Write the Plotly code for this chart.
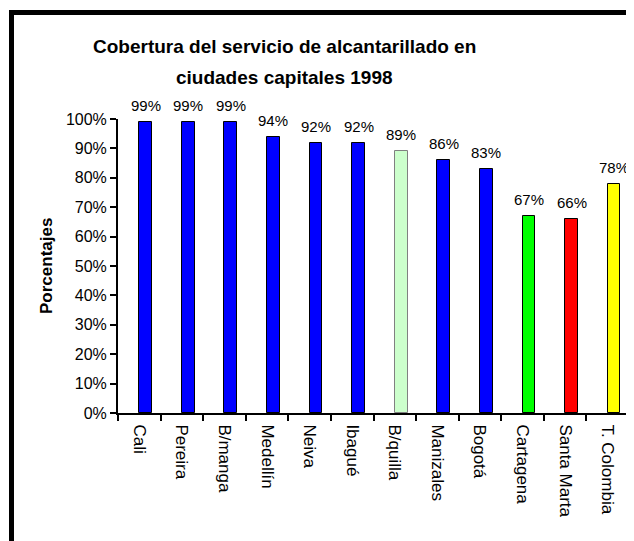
import plotly.graph_objects as go

ciudades = ["Cali", "Pereira", "B/manga", "Medellín", "Neiva", "Ibagué",
            "B/quilla", "Manizales", "Bogotá", "Cartagena", "Santa Marta", "T. Colombia"]
cobertura = [99, 99, 99, 94, 92, 92, 89, 86, 83, 67, 66, 78]
colores = ["#0000FF", "#0000FF", "#0000FF", "#0000FF", "#0000FF", "#0000FF",
           "#CCFFCC", "#0000FF", "#0000FF", "#00FF00", "#FF0000", "#FFFF00"]
bordes = ["#000000"] * 6 + ["#808080"] + ["#000000"] * 5

# page has an 8px body margin, so work in screen pixels and shift
OX, OY = 8, 8
W, H = 634 - OX, 541 - OY
L, R, T, B = 118 - OX, 5, 119 - OY, 541 - 413
pw, ph = W - L - R, H - T - B

def px(x):
    return (x - OX - L) / pw

def py(y):
    return (H - B - (y - OY)) / ph

fig = go.Figure()
fig.add_bar(
    x=ciudades, y=cobertura,
    width=0.3, offset=0,
    marker=dict(color=colores, line=dict(color=bordes, width=1)),
)

# data labels above the bars (bars sit right of the category centre)
etiquetas = [
    dict(x=i + 0.15, y=v, xref="x", yref="y", text=f"{v}%", showarrow=False,
         xanchor="center", yanchor="bottom", yshift=6, font=dict(size=15))
    for i, v in enumerate(cobertura)
]

fig.update_layout(
    width=W, height=H,
    margin=dict(l=L, r=R, t=T, b=B, autoexpand=False),
    plot_bgcolor="white", paper_bgcolor="white",
    font=dict(family="Liberation Sans, Arial", size=15, color="black"),
    showlegend=False,
    bargap=0,
    xaxis=dict(
        showline=True, linecolor="black", linewidth=2,
        ticks="outside", tickson="boundaries", ticklen=6, tickwidth=2, tickcolor="black",
        tickangle=90, range=[-0.5, 11.5], showgrid=False,
        tickfont=dict(size=17), ticklabelstandoff=6,
    ),
    yaxis=dict(
        range=[0, 100], dtick=10, ticksuffix="%",
        showline=True, linecolor="black", linewidth=2,
        ticks="outside", ticklen=6, tickwidth=2, tickcolor="black",
        showgrid=False, zeroline=False, tickfont=dict(size=16),
    ),
    annotations=etiquetas + [
        dict(text="<b>Cobertura del servicio de alcantarillado en</b>",
             x=px(284), y=py(47), xref="paper", yref="paper", showarrow=False,
             font=dict(size=19), xanchor="center", yanchor="middle"),
        dict(text="<b>ciudades capitales 1998</b>",
             x=px(284), y=py(78), xref="paper", yref="paper", showarrow=False,
             font=dict(size=19), xanchor="center", yanchor="middle"),
        dict(text="<b>Porcentajes</b>", textangle=-90,
             x=px(46), y=py(266), xref="paper", yref="paper", showarrow=False,
             font=dict(size=17), xanchor="center", yanchor="middle"),
    ],
    shapes=[
        dict(type="line", xref="paper", yref="paper", x0=px(11.5), x1=px(11.5),
             y0=py(10), y1=py(560), line=dict(color="black", width=5)),
        dict(type="line", xref="paper", yref="paper", x0=px(9), x1=px(650),
             y0=py(12.5), y1=py(12.5), line=dict(color="black", width=5)),
    ],
)

fig.write_html("out.html")
